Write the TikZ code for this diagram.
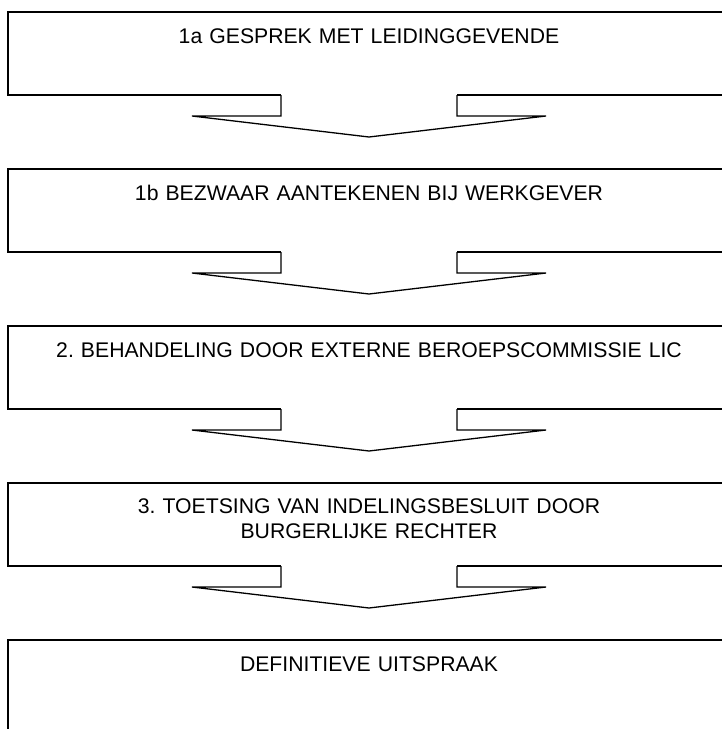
\documentclass[tikz,border=0pt]{standalone}
\usepackage{fontspec}
\setmainfont{Liberation Sans}
\frenchspacing
\begin{document}
\begin{tikzpicture}[x=1pt,y=-1pt,
  boxline/.style={line width=1.6pt,line join=miter},
  arrowline/.style={line width=1.3pt,line join=miter},
  label/.style={anchor=base,inner sep=0pt,text width=640pt,align=center,
    font=\frenchspacing\fontsize{21.2}{25}\selectfont}]
\useasboundingbox (0,0) rectangle (722,729);
\clip (0,0) rectangle (722,729);
\foreach \i in {0,1,2,3}{
  \pgfmathsetmacro{\T}{12+157*\i}
  \draw[boxline] (740,\T) -- (8,\T) -- (8,\T+83) -- (281,\T+83);
  \draw[boxline] (457,\T+83) -- (740,\T+83);
  \draw[arrowline] (281,\T+83) -- (281,\T+104) -- (192,\T+104) -- (369,\T+125)
     -- (546,\T+104) -- (457,\T+104) -- (457,\T+83);
}
\draw[boxline] (740,640) -- (8,640) -- (8,740);
\node[label] (s1a) at (369,43) {1a GESPREK MET LEIDINGGEVENDE};
\node[label] (s1b) at (369,200) {1b BEZWAAR AANTEKENEN BIJ WERKGEVER};
\node[label] (s2) at (369,357) {2. BEHANDELING DOOR EXTERNE BEROEPSCOMMISSIE LIC};
\node[label] (s3) at (369,513) {3. TOETSING VAN INDELINGSBESLUIT DOOR\\BURGERLIJKE RECHTER};
\node[label] (s4) at (369,671) {DEFINITIEVE UITSPRAAK};
\end{tikzpicture}
\end{document}
